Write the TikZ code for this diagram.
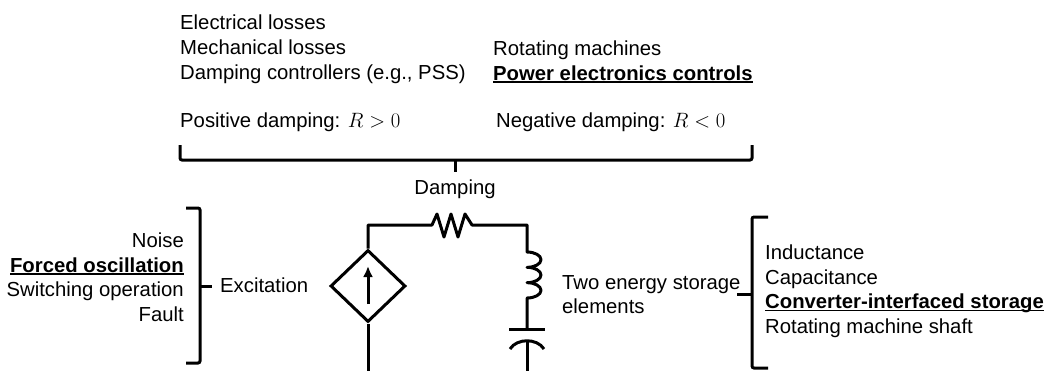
\documentclass[tikz,border=0pt]{standalone}
\usepackage{fontspec}
\setmainfont{Liberation Sans}
\usetikzlibrary{arrows.meta, positioning, shapes.geometric}
\tikzset{
  txt/.style = {inner sep=0pt, font=\fontsize{20.3}{25}\selectfont},
  wire/.style = {line width=3pt, line join=round},
  brace/.style = {line width=3pt, rounded corners=2pt},
  source/.style = {diamond, draw, line width=3pt, minimum width=75pt,
    minimum height=72pt, inner sep=0pt},
}
\newcommand{\keyline}[1]{\setbox0\hbox{\textbf{#1}}\rlap{\rule[-2.5pt]{\wd0}{1.4pt}}\box0}
\begin{document}
\begin{tikzpicture}[x=1pt, y=-1pt]
\useasboundingbox (0,0) rectangle (1045,370);

% damping (top)
\foreach \t [count=\i] in {Electrical losses, Mechanical losses, {Damping controllers (e.g., PSS)}}
  \node [txt, anchor=base west] (loss\i) at (180,4+25*\i) {\t};
\node [txt, anchor=base west] (neg1) at (493,55) {Rotating machines};
\node [txt, anchor=base west] (neg2) at (493,80) {\keyline{Power electronics controls}};
\node [txt, anchor=base west] (pos) at (180,127) {Positive damping: $R>0$};
\node [txt, anchor=base west] (neg) at (496,127) {Negative damping: $R<0$};
\coordinate (dampL) at (180,145);
\coordinate (dampR) at (752,145);
\coordinate (dampTip) at (455,172);
\draw [brace] (dampL) |- (dampR |- 0,160) -- (dampR);
\draw [brace] (dampTip |- 0,160) -- (dampTip);
\node [txt, anchor=base] (damp) at (455,194) {Damping};

% excitation (left)
\foreach \t [count=\i] in {Noise, \keyline{Forced oscillation}, Switching operation, Fault}
  \node [txt, anchor=base east] (exc\i) at (184,223+24.5*\i) {\t};
\coordinate (excTop) at (186,208);
\coordinate (excBot) at (186,363);
\coordinate (excTip) at (212,286);
\draw [brace] (excTop) -- (200,208) -- (200,363) -- (excBot);
\draw [brace] (200,286) -- (excTip);
\node [txt, anchor=base west] (exc) at (220,292) {Excitation};

% circuit
\node [source] (src) at (368,286) {};
\draw [wire, -{Latex[length=11pt, width=10pt]}] (368,304) -- (368,266);
\coordinate (tl) at (368,225);
\coordinate (r1) at (432,225);
\coordinate (r2) at (472,225);
\coordinate (tr) at (527,225);
\coordinate (l1) at (527,252);
\coordinate (l2) at (527,298);
\coordinate (c1) at (527,329);
\coordinate (c2) at (527,340);
\draw [wire] (src.north) -- (tl) -- (r1) -- (437,214) -- (444,237) -- (451,214)
  -- (458,237) -- (465,214) -- (r2) -- (tr) -- (l1)
  arc [start angle=90, end angle=-90, x radius=14pt, y radius=7.67pt]
  arc [start angle=90, end angle=-90, x radius=14pt, y radius=7.67pt]
  arc [start angle=90, end angle=-90, x radius=14pt, y radius=7.67pt]
  -- (c1);
\draw [wire] (509,329) -- (545,329);
\draw [wire] (510,349) .. controls (517,338) and (537,338) .. (544,349);
\draw [wire] (c2) -- (527,375);
\draw [wire] (src.south) -- (368,375);

% energy storage (right)
\node [txt, anchor=base west] (two1) at (562,289) {Two energy storage};
\node [txt, anchor=base west] (two2) at (562,313) {elements};
\coordinate (stoTop) at (768,217);
\coordinate (stoBot) at (768,368);
\coordinate (stoTip) at (737,294);
\draw [brace] (stoTop) -- (752,217) -- (752,368) -- (stoBot);
\draw [brace] (752,294) -- (stoTip);
\foreach \t [count=\i] in {Inductance, Capacitance, \keyline{Converter-interfaced storage}, Rotating machine shaft}
  \node [txt, anchor=base west] (sto\i) at (765,235+24.5*\i) {\t};
\end{tikzpicture}
\end{document}
